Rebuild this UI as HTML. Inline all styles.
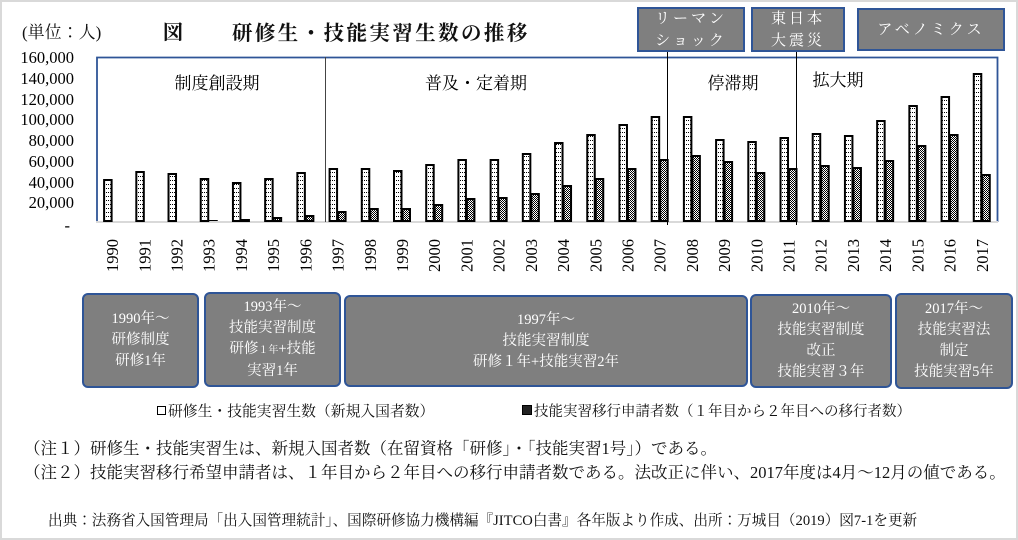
<!DOCTYPE html>
<html><head><meta charset="utf-8"><style>
html,body{margin:0;padding:0;background:#fff}
body{width:1018px;height:540px;position:relative;overflow:hidden;font-family:"Liberation Serif","Noto Serif CJK JP","Noto Serif CJK SC",serif;color:#111}
.frame{position:absolute;left:0;top:0;width:1014px;height:536px;border:2px solid #d9d9d9}
.box{position:absolute;background:#7f7f7f;border:2px solid #2f5597;border-radius:6px;color:#fff;text-align:center;box-sizing:border-box;display:flex;flex-direction:column;justify-content:center;font-size:14.5px;line-height:21px}
.tb{position:absolute;background:#7f7f7f;border:2px solid #2f5597;color:#fff;text-align:center;box-sizing:border-box;display:flex;flex-direction:column;justify-content:center;font-size:15px;line-height:22px;letter-spacing:3px}
.t{position:absolute;white-space:nowrap}
</style></head><body>
<div class="frame"></div>
<div class="t" style="left:22px;top:18px;font-size:17px">(単位：人)</div>
<div class="t" style="left:163px;top:16px;font-size:20px;font-weight:bold">図</div>
<div class="t" style="left:232px;top:16px;font-size:20.5px;font-weight:bold;letter-spacing:2.4px">研修生・技能実習生数の推移</div>
<div class="tb" style="left:637px;top:7px;width:108px;height:45px"><div>リーマン<br>ショック</div></div>
<div class="tb" style="left:751px;top:7px;width:94px;height:45px"><div>東日本<br>大震災</div></div>
<div class="tb" style="left:857px;top:8px;width:148px;height:43px"><div>アベノミクス</div></div>
<svg width="1018" height="290" style="position:absolute;left:0;top:0">
<defs>
<pattern id="dot" width="2" height="4" patternUnits="userSpaceOnUse"><rect width="2" height="4" fill="#fff"/><rect x="0" y="0" width="1" height="1" fill="#000"/></pattern>
<pattern id="chk" width="2" height="2" patternUnits="userSpaceOnUse"><rect width="2" height="2" fill="#fff"/><rect width="1" height="1" fill="#000"/><rect x="1" y="1" width="1" height="1" fill="#000"/></pattern>
</defs>
<g font-size="16.5" text-anchor="end" font-family="Liberation Serif,serif">
<text x="74" y="63">160,000</text><text x="74" y="84">140,000</text><text x="74" y="105">120,000</text><text x="74" y="125">100,000</text><text x="74" y="146">80,000</text><text x="74" y="167">60,000</text><text x="74" y="188">40,000</text><text x="74" y="208">20,000</text><text x="70" y="231">-</text>
</g>
<path d="M97 222 V57.5 H997.5 V222" fill="none" stroke="#2f5597" stroke-width="1.8"/>
<line x1="96" y1="222" x2="998" y2="222" stroke="#d9d9d9" stroke-width="2"/>
<line x1="325.5" y1="57" x2="325.5" y2="222" stroke="#444" stroke-width="1"/>
<line x1="667.5" y1="52" x2="667.5" y2="225" stroke="#000" stroke-width="1"/>
<line x1="796.5" y1="52" x2="796.5" y2="225" stroke="#000" stroke-width="1"/>
<g font-size="17" text-anchor="middle" font-family="Noto Serif CJK JP,serif">
<text x="217" y="89">制度創設期</text><text x="476" y="89">普及・定着期</text><text x="733" y="89">停滞期</text><text x="838" y="86">拡大期</text>
</g>
<g id="bars"></g>
<g id="years" font-size="16.5" font-family="Liberation Serif,serif"></g>
</svg>
<script>
var w=[180,172,174,179,183,179,173,169,169,171,165,160,160,154,143,135,125,117,117,140,142,138,134,136,121,106,97,74];
var d=[0,0,0,221,220,218,216,212,209,209,205,199,198,194,186,179,169,160,156,162,173,169,166,168,161,146,135,175];
var s='',y='';
for(var i=0;i<28;i++){var c=96+(i+0.5)*32.21;
s+='<rect x="'+(c-8)+'" y="'+w[i]+'" width="7.5" height="'+(221-w[i])+'" fill="url(#dot)" stroke="#000" stroke-width="2"/>';
if(d[i]>0&&d[i]<221)s+='<rect x="'+(c+0.5)+'" y="'+d[i]+'" width="7.5" height="'+(221-d[i])+'" fill="url(#chk)" stroke="#000" stroke-width="2"/>';
else if(d[i]>0)s+='<line x1="'+c+'" y1="220.5" x2="'+(c+9)+'" y2="220.5" stroke="#000" stroke-width="1"/>';
y+='<text transform="translate('+(c+6)+',272) rotate(-90)">'+(1990+i)+'</text>';}
document.getElementById('bars').innerHTML=s;document.getElementById('years').innerHTML=y;
</script>
<div class="box" style="left:82px;top:293px;width:117px;height:95px"><div>1990年～<br>研修制度<br>研修1年</div></div>
<div class="box" style="left:204px;top:292px;width:137px;height:95px"><div>1993年～<br>技能実習制度<br>研修<span style="font-size:10px">１年</span>+技能<br>実習1年</div></div>
<div class="box" style="left:344px;top:295px;width:404px;height:92px"><div>1997年～<br>技能実習制度<br>研修１年+技能実習2年</div></div>
<div class="box" style="left:750px;top:294px;width:142px;height:94px"><div>2010年～<br>技能実習制度<br>改正<br>技能実習３年</div></div>
<div class="box" style="left:895px;top:293px;width:118px;height:96px"><div>2017年～<br>技能実習法<br>制定<br>技能実習5年</div></div>
<div class="t" style="left:157px;top:400px;font-size:14.8px"><span style="display:inline-block;width:7px;height:7px;border:1.5px solid #000;margin-right:2px;vertical-align:1px"></span>研修生・技能実習生数（新規入国者数）</div>
<div class="t" style="left:522px;top:400px;font-size:14.5px"><span style="display:inline-block;width:8px;height:8px;background:#222;border:1px solid #000;margin-right:2px;vertical-align:1px"></span>技能実習移行申請者数（１年目から２年目への移行者数）</div>
<div class="t" style="left:24px;top:435px;font-size:16.5px">（注１）研修生・技能実習生は、新規入国者数（在留資格「研修」・「技能実習1号」）である。</div>
<div class="t" style="left:24px;top:459px;font-size:16.5px">（注２）技能実習移行希望申請者は、１年目から２年目への移行申請者数である。法改正に伴い、2017年度は4月～12月の値である。</div>
<div class="t" style="left:48px;top:509px;font-size:14.6px">出典：法務省入国管理局「出入国管理統計」、国際研修協力機構編『JITCO白書』各年版より作成、出所：万城目（2019）図7-1を更新</div>
</body></html>
